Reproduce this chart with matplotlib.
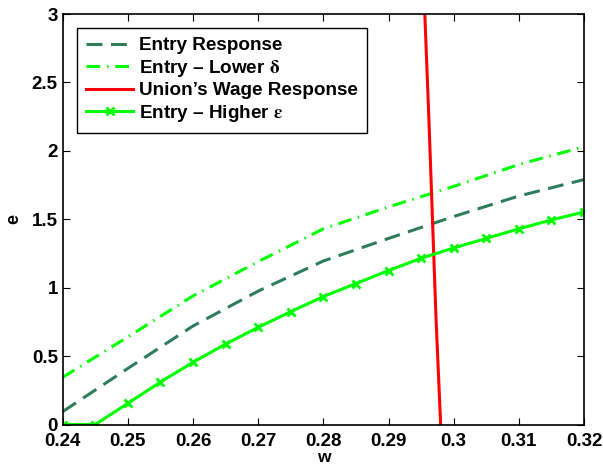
import numpy as np
import matplotlib
matplotlib.use("Agg")
import matplotlib.pyplot as plt

plt.rcParams['font.family'] = ['Liberation Sans', 'DejaVu Sans']
plt.rcParams['font.weight'] = 'bold'
plt.rcParams['mathtext.fontset'] = 'stix'

# entry responses on a common wage grid
w_grid = [0.24, 0.25, 0.26, 0.27, 0.28, 0.29, 0.30, 0.31, 0.32]
entry_base = [0.094, 0.41, 0.72, 0.975, 1.195, 1.36, 1.52, 1.67, 1.79]
entry_low_delta = [0.345, 0.64, 0.94, 1.19, 1.43, 1.59, 1.74, 1.90, 2.03]

# higher epsilon case, finer grid with markers
w_eps = [0.24, 0.245, 0.25, 0.255, 0.26, 0.265, 0.27, 0.275, 0.28, 0.285,
         0.29, 0.295, 0.30, 0.305, 0.31, 0.315, 0.32]
entry_high_eps = [0.0, 0.0, 0.155, 0.31, 0.455, 0.588, 0.71, 0.825, 0.935, 1.03,
                  1.125, 1.215, 1.29, 1.36, 1.43, 1.495, 1.553]

# union's wage response (w as a function of e)
union_e = [3.0, 2.226, 0.764, 0.0]
union_w = [0.29557, 0.2962, 0.2973, 0.2980]

xticks = [0.24, 0.25, 0.26, 0.27, 0.28, 0.29, 0.30, 0.31, 0.32]
xticklabels = ['0.24', '0.25', '0.26', '0.27', '0.28', '0.29', '0.3', '0.31', '0.32']
yticks = [0, 0.5, 1, 1.5, 2, 2.5, 3]
yticklabels = ['0', '0.5', '1', '1.5', '2', '2.5', '3']

fig = plt.figure(figsize=(6.03, 4.67), dpi=100)
ax = fig.add_axes([0.104, 0.091, 0.8645, 0.879])

ax.plot(w_grid, entry_base, color='#2e7d5a', lw=2.2, dashes=(5.2, 2.8),
        label='Entry Response')
ax.plot(w_grid, entry_low_delta, color='#00ff00', lw=2.2, dashes=(4.5, 2.2, 0.5, 2.2),
        label=r'Entry – Lower $\mathrm{\delta}$')
ax.plot(union_w, union_e, color='#ff0000', lw=2.2, label="Union’s Wage Response")
ax.plot(w_eps, entry_high_eps, color='#00ff00', lw=2.2, marker='x', ms=6, mew=2,
        label=r'Entry – Higher $\mathrm{\varepsilon}$')

ax.set_xlim(0.24, 0.32)
ax.set_ylim(0, 3)
ax.set_xticks(xticks)
ax.set_xticklabels(xticklabels)
ax.set_yticks(yticks)
ax.set_yticklabels(yticklabels)
ax.tick_params(direction='in', length=5, width=0.8, top=True, right=True,
               labelsize=13.5)
ax.tick_params(axis='x', pad=6)
ax.tick_params(axis='y', pad=3.5)
for lab in ax.get_xticklabels() + ax.get_yticklabels():
    lab.set_fontweight('bold')
for sp in ax.spines.values():
    sp.set_linewidth(1.2)

ax.set_xlabel('w', fontsize=12.5, fontweight='bold', labelpad=0)
ax.set_ylabel('e', fontsize=13, fontweight='bold', labelpad=7)

leg = ax.legend(loc='upper left', bbox_to_anchor=(0.027, 0.967), borderaxespad=0,
                fontsize=13.6, handlelength=2.5, handletextpad=0.3,
                labelspacing=0.18, borderpad=0.5, fancybox=False,
                framealpha=1, edgecolor='black')
leg.get_frame().set_linewidth(1.0)
for t in leg.get_texts():
    t.set_fontweight('bold')

fig.savefig('out.png', dpi=100)
